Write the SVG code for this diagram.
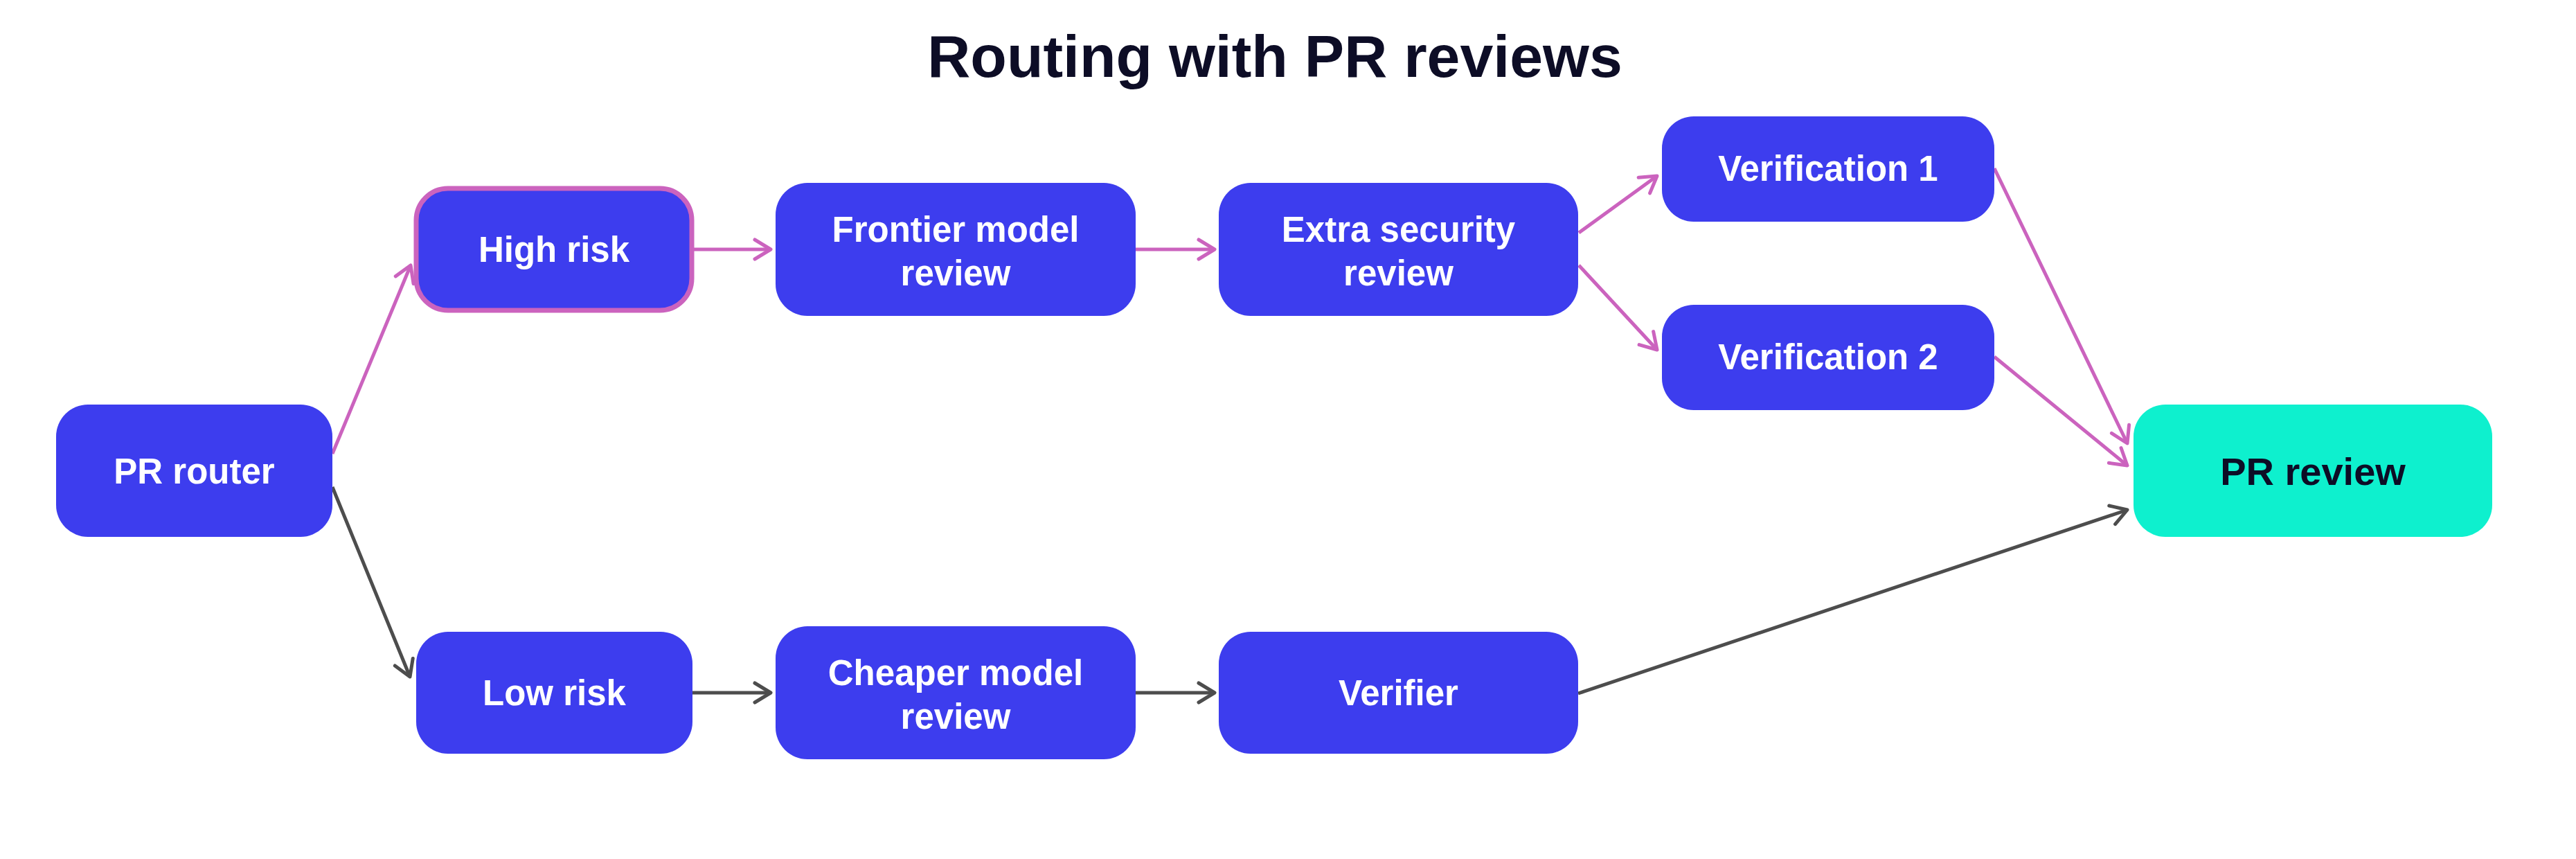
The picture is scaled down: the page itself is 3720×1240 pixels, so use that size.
<svg xmlns="http://www.w3.org/2000/svg" width="3720" height="1240" viewBox="0 0 3720 1240">
  <style>
    .node { fill: #3D3DEE; }
    .final { fill: #0EF0CE; }
    .lbl { font-family: "Liberation Sans", Arial, sans-serif; font-weight: bold; font-size: 51px; fill: #FFFFFF; text-anchor: middle; }
    .lbl-dark { font-family: "Liberation Sans", Arial, sans-serif; font-weight: bold; font-size: 56px; fill: #0D0D26; text-anchor: middle; }
    .title { font-family: "Liberation Sans", Arial, sans-serif; font-weight: bold; font-size: 86px; fill: #0D0D26; text-anchor: middle; }
    .pink { stroke: #CB63BE; stroke-width: 5; fill: none; marker-end: url(#arrowPink); }
    .dark { stroke: #4D4D4D; stroke-width: 5; fill: none; marker-end: url(#arrowDark); }
  </style>
  <defs>
    <marker id="arrowPink" markerUnits="userSpaceOnUse" orient="auto" viewBox="-30 -20 36 40" markerWidth="36" markerHeight="40" refX="0" refY="0" overflow="visible">
      <path d="M-23,-14 L0,0 L-23,14" fill="none" stroke="#CB63BE" stroke-width="5" stroke-linecap="round" stroke-linejoin="round"/>
    </marker>
    <marker id="arrowDark" markerUnits="userSpaceOnUse" orient="auto" viewBox="-30 -20 36 40" markerWidth="36" markerHeight="40" refX="0" refY="0" overflow="visible">
      <path d="M-23,-14 L0,0 L-23,14" fill="none" stroke="#4D4D4D" stroke-width="5" stroke-linecap="round" stroke-linejoin="round"/>
    </marker>
  </defs>
  <rect width="3720" height="1240" fill="#FFFFFF"/>
  <text class="title" x="1841" y="111">Routing with PR reviews</text>

  <g id="connectors">
    <line class="pink" x1="480" y1="655" x2="593" y2="383"/>
    <line class="pink" x1="1002" y1="360" x2="1113" y2="360"/>
    <line class="pink" x1="1640" y1="360" x2="1754" y2="360"/>
    <line class="pink" x1="2280" y1="336" x2="2393" y2="254"/>
    <line class="pink" x1="2280" y1="383" x2="2393" y2="505"/>
    <line class="pink" x1="2880" y1="243" x2="3072" y2="640"/>
    <line class="pink" x1="2880" y1="515" x2="3072" y2="672"/>
    <line class="dark" x1="480" y1="703" x2="592" y2="977"/>
    <line class="dark" x1="1000" y1="1000" x2="1113" y2="1000"/>
    <line class="dark" x1="1640" y1="1000" x2="1754" y2="1000"/>
    <line class="dark" x1="2279" y1="1001" x2="3072" y2="736"/>
  </g>

  <g id="pr-router">
    <rect class="node" x="81" y="584" width="399" height="191" rx="46" ry="46"/>
    <text class="lbl" x="280.5" y="698">PR router</text>
  </g>
  <g id="high-risk">
    <rect class="node" x="601" y="272" width="398" height="176" rx="46" ry="46" stroke="#CB63BE" stroke-width="7"/>
    <text class="lbl" x="800" y="378">High risk</text>
  </g>
  <g id="low-risk">
    <rect class="node" x="601" y="912" width="399" height="176" rx="46" ry="46"/>
    <text class="lbl" x="800.5" y="1018">Low risk</text>
  </g>
  <g id="frontier-model-review">
    <rect class="node" x="1120" y="264" width="520" height="192" rx="46" ry="46"/>
    <text class="lbl" x="1380" y="349">Frontier model</text>
    <text class="lbl" x="1380" y="412">review</text>
  </g>
  <g id="cheaper-model-review">
    <rect class="node" x="1120" y="904" width="520" height="192" rx="46" ry="46"/>
    <text class="lbl" x="1380" y="989">Cheaper model</text>
    <text class="lbl" x="1380" y="1052">review</text>
  </g>
  <g id="extra-security-review">
    <rect class="node" x="1760" y="264" width="519" height="192" rx="46" ry="46"/>
    <text class="lbl" x="2019.5" y="349">Extra security</text>
    <text class="lbl" x="2019.5" y="412">review</text>
  </g>
  <g id="verifier">
    <rect class="node" x="1760" y="912" width="519" height="176" rx="46" ry="46"/>
    <text class="lbl" x="2019.5" y="1018">Verifier</text>
  </g>
  <g id="verification-1">
    <rect class="node" x="2400" y="168" width="480" height="152" rx="46" ry="46"/>
    <text class="lbl" x="2640" y="261">Verification 1</text>
  </g>
  <g id="verification-2">
    <rect class="node" x="2400" y="440" width="480" height="152" rx="46" ry="46"/>
    <text class="lbl" x="2640" y="533">Verification 2</text>
  </g>
  <g id="pr-review">
    <rect class="final" x="3081" y="584" width="518" height="191" rx="46" ry="46"/>
    <text class="lbl-dark" x="3340" y="700">PR review</text>
  </g>
</svg>
